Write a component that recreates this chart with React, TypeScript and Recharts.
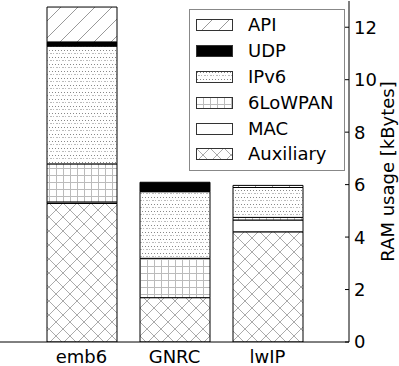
import React from 'react';
import { BarChart, Bar, XAxis, YAxis, Legend } from 'recharts';

const categories = ['emb6', 'GNRC', 'lwIP'];
const auxiliary = [5.28, 1.69, 4.2];
const mac = [0.06, 0, 0.45];
const lowpan = [1.45, 1.5, 0.1];
const ipv6 = [4.49, 2.54, 1.14];
const udp = [0.16, 0.36, 0];
const api = [1.33, 0, 0.08];
const yTicks = [0, 2, 4, 6, 8, 10, 12];
const yLabel = 'RAM usage [kBytes]';

const seriesNames = ['Auxiliary', 'MAC', '6LoWPAN', 'IPv6', 'UDP', 'API'];
const seriesValues = [auxiliary, mac, lowpan, ipv6, udp, api];
const seriesFills = ['url(#patAux)', '#ffffff', 'url(#patGrid)', 'url(#patDots)', '#000000', 'url(#patDiag)'];

const data = categories.map((c, i) => {
  const row: Record<string, string | number> = { name: c };
  seriesNames.forEach((s, k) => {
    row[s] = seriesValues[k][i];
  });
  return row;
});

const FONT = '"DejaVu Sans", sans-serif';
const FS = 18;
const TICK_MARGIN = 5;

const Patterns = () => (
  <svg width={0} height={0} style={{ position: 'absolute' }}>
    <defs>
      <pattern id="patDiag" width={17} height={17} patternUnits="userSpaceOnUse">
        <rect width={17} height={17} fill="#fff" />
        <path d="M-4,4 L4,-4 M0,17 L17,0 M13,21 L21,13" stroke="#999" strokeWidth={1} />
      </pattern>
      <pattern id="patDots" width={6} height={7} patternUnits="userSpaceOnUse">
        <rect width={6} height={7} fill="#fff" />
        <rect x={1} y={1} width={1} height={1} fill="#888" />
        <rect x={4} y={1} width={1} height={1} fill="#888" />
        <rect x={2} y={4} width={2} height={1} fill="#bbb" />
        <rect x={5} y={4} width={1} height={1} fill="#bbb" />
      </pattern>
      <pattern id="patGrid" width={7} height={7} patternUnits="userSpaceOnUse">
        <rect width={7} height={7} fill="#fff" />
        <path d="M0,0.5 H7 M0.5,0 V7" stroke="#bbb" strokeWidth={1} />
      </pattern>
      <pattern id="patAux" width={14} height={14} patternUnits="userSpaceOnUse">
        <rect width={14} height={14} fill="#fff" />
        <path d="M0,0 L14,14 M14,0 L0,14" stroke="#aaa" strokeWidth={1} />
      </pattern>
    </defs>
  </svg>
);

const RightTick = (props: any) => {
  const { x, y, payload } = props;
  return (
    <g>
      <line x1={x - TICK_MARGIN - 4} x2={x - TICK_MARGIN} y1={y} y2={y} stroke="#000" strokeWidth={1} />
      <text x={x} y={y} dy="0.36em" textAnchor="start" fontSize={FS} fontFamily={FONT} fill="#000">
        {payload.value}
      </text>
    </g>
  );
};

const TopTick = (props: any) => {
  const { x, y } = props;
  return <line x1={x} x2={x} y1={y} y2={y + 4} stroke="#000" strokeWidth={1} />;
};

const YLabel = (props: any) => {
  const vb = props.viewBox || {};
  const cx = vb.x + 38;
  const cy = vb.y + vb.height / 2;
  return (
    <text
      x={cx}
      y={cy}
      transform={`rotate(-90, ${cx}, ${cy})`}
      textAnchor="middle"
      dominantBaseline="central"
      fontSize={FS}
      fontFamily={FONT}
      fill="#000"
    >
      {yLabel}
    </text>
  );
};

const LegendBox = () => {
  const order = [...seriesNames].reverse();
  const fills = [...seriesFills].reverse();
  return (
    <div
      style={{
        border: '1px solid #888',
        background: '#fff',
        padding: '2px 11px 3px 6px',
        fontFamily: FONT,
        fontSize: FS,
        color: '#000',
      }}
    >
      {order.map((n, i) => (
        <div key={n} style={{ display: 'flex', alignItems: 'center', height: 25.9 }}>
          <svg width={37} height={12} style={{ marginRight: 15, flexShrink: 0 }}>
            <rect x={0.5} y={0.5} width={36} height={11} fill={fills[i]} stroke="#333" strokeWidth={1} />
          </svg>
          <span style={{ lineHeight: '25.9px', whiteSpace: 'nowrap' }}>{n}</span>
        </div>
      ))}
    </div>
  );
};

export default function App() {
  return (
    <div style={{ position: 'absolute', left: 0, top: 0, width: 399, height: 366, background: '#fff' }}>
      <Patterns />
      <BarChart width={399} height={366} data={data} margin={{ top: 1, right: 0, left: 0, bottom: 0 }} barSize={70}>
        <XAxis
          dataKey="name"
          height={24}
          padding={{ left: 35, right: 35 }}
          axisLine={{ stroke: '#000', strokeWidth: 1 }}
          tickLine={false}
          tickSize={0}
          tickMargin={8}
          tick={{ fontSize: FS, fontFamily: FONT, fill: '#000' }}
          interval={0}
        />
        <XAxis
          xAxisId="top"
          dataKey="name"
          orientation="top"
          height={0}
          padding={{ left: 35, right: 35 }}
          axisLine={{ stroke: '#000', strokeWidth: 1 }}
          tickLine={false}
          tickSize={0}
          tickMargin={0}
          tick={TopTick}
          interval={0}
        />
        <YAxis
          orientation="right"
          width={50}
          domain={[0, 13]}
          ticks={yTicks}
          allowDataOverflow
          axisLine={{ stroke: '#000', strokeWidth: 1 }}
          tickLine={false}
          tickSize={0}
          tickMargin={TICK_MARGIN}
          tick={RightTick}
          interval={0}
          label={<YLabel />}
        />
        <Legend
          layout="horizontal"
          verticalAlign="middle"
          align="center"
          content={() => <LegendBox />}
          wrapperStyle={{ position: 'absolute', top: 9, left: 189, width: 'auto', height: 'auto' }}
        />
        {seriesNames.map((s, k) => (
          <Bar
            key={s}
            dataKey={s}
            name={s}
            stackId="a"
            fill={seriesFills[k]}
            stroke="#000"
            strokeWidth={1}
            isAnimationActive={false}
          />
        ))}
      </BarChart>
    </div>
  );
}
